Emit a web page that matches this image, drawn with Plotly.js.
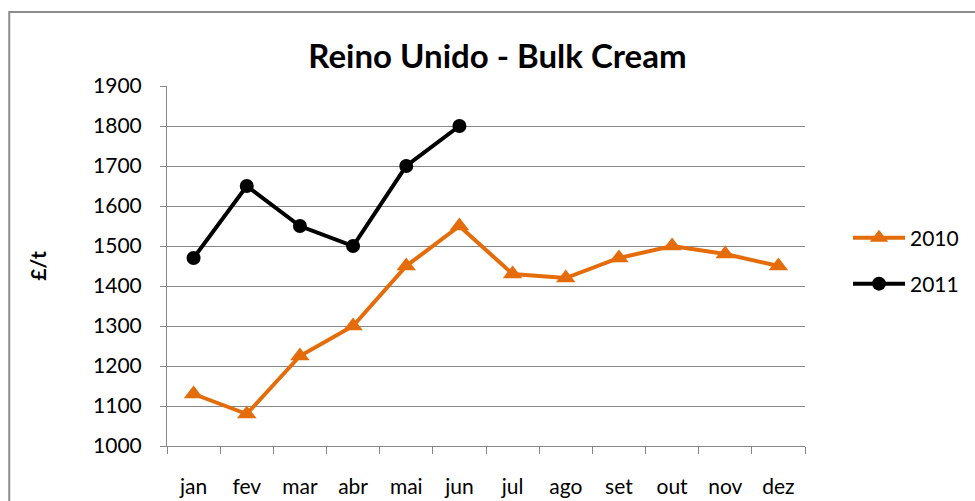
<!DOCTYPE html>
<html>
<head>
<meta charset="utf-8">
<script src="https://cdn.plot.ly/plotly-3.0.1.min.js"></script>
<style>html,body{margin:0;padding:0;background:#fff;}#chart{width:975px;height:501px;}</style>
</head>
<body>
<div id="chart"></div>
<script>
const months = ["jan","fev","mar","abr","mai","jun","jul","ago","set","out","nov","dez"];
const values2010 = [1130,1080,1225,1300,1450,1550,1430,1420,1470,1500,1480,1450];
const months2011 = ["jan","fev","mar","abr","mai","jun"];
const values2011 = [1470,1650,1550,1500,1700,1800];
const yTicks = [1000,1100,1200,1300,1400,1500,1600,1700,1800,1900];

const FONT = "Lato, 'Open Sans', sans-serif";
const W = 975, H = 501, L = 167, R = 169, T = 86, B = 55;
const pw = W - L - R, ph = H - T - B;
const px = x => (x - L) / pw;
const py = y => (H - B - y) / ph;

const traces = [
  {x: months, y: values2010, name: "2010", type: "scatter", mode: "lines+markers",
   line: {color: "#E46C0A", width: 4}, marker: {symbol: "triangle-up", size: 17, color: "#E46C0A"},
   legend: "legend", showlegend: true},
  {x: months2011, y: values2011, name: "2011", type: "scatter", mode: "lines+markers",
   line: {color: "#000000", width: 4}, marker: {symbol: "circle", size: 14, color: "#000000"},
   legend: "legend2", showlegend: true}
];

const legendCommon = {xanchor: "left", yanchor: "middle", itemwidth: 52, visible: true,
  font: {family: FONT, size: 21, color: "#000"}, bgcolor: "rgba(0,0,0,0)", borderwidth: 0};

const layout = {
  width: W, height: H,
  showlegend: true,
  margin: {l: L, r: R, t: T, b: B, pad: 0},
  paper_bgcolor: "#fff", plot_bgcolor: "#fff",
  font: {family: FONT, color: "#000"},
  title: {text: "<b>Reino Unido - Bulk Cream</b>", font: {family: FONT, size: 33, color: "#000"},
          x: px(498), xref: "paper", xanchor: "center", y: 1 - 56 / H, yref: "container", yanchor: "middle"},
  xaxis: {type: "category", categoryarray: months, range: [-0.5, 11.5],
          showgrid: false, showline: true, linecolor: "#868686", linewidth: 1,
          ticks: "outside", tickson: "boundaries", ticklen: 7, tickcolor: "#868686", tickwidth: 1,
          tickfont: {family: FONT, size: 21, color: "#000"}, ticklabelstandoff: 22, zeroline: false, fixedrange: true},
  yaxis: {range: [1000, 1900], tickvals: yTicks, ticktext: yTicks.map(String),
          showgrid: true, gridcolor: "#868686", gridwidth: 1,
          showline: true, linecolor: "#868686", linewidth: 1,
          ticks: "outside", ticklen: 6, tickcolor: "#868686", tickwidth: 1,
          tickfont: {family: FONT, size: 21, color: "#000"}, ticklabelstandoff: 14,
          title: {text: "<b>£/t</b>", font: {family: FONT, size: 21, color: "#000"}, standoff: 40},
          zeroline: false, fixedrange: true},
  legend: Object.assign({x: px(848), y: py(238)}, legendCommon),
  legend2: Object.assign({x: px(848), y: py(284)}, legendCommon),
  shapes: [{type: "rect", xref: "paper", yref: "paper",
            x0: px(9), x1: px(990), y0: py(520), y1: py(12),
            line: {color: "#8C8C8C", width: 2}, fillcolor: "rgba(0,0,0,0)", layer: "below"}]
};

Plotly.newPlot("chart", traces, layout, {displayModeBar: false, staticPlot: true});
</script>
</body>
</html>
